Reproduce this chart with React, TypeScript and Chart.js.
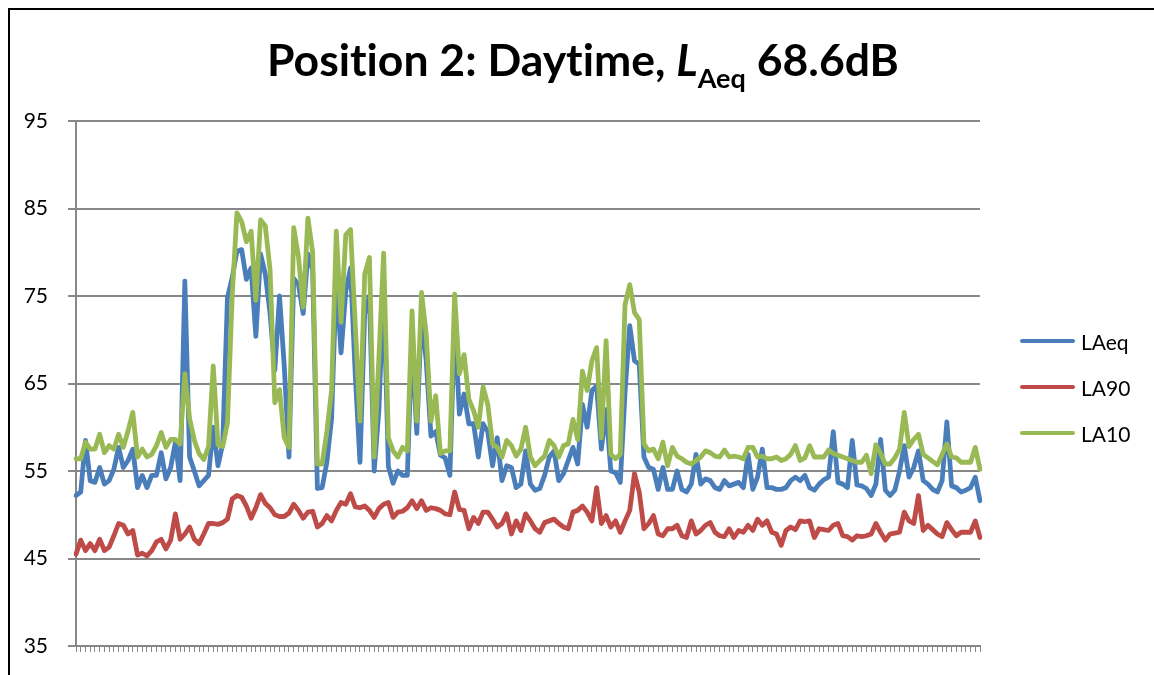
import React, { useEffect, useRef } from "react";
import { Chart, registerables } from "chart.js";

Chart.register(...registerables);

const SERIES_NAMES = ["LAeq", "LA90", "LA10"];
const COLORS = ["#4A7EBB", "#BE4B48", "#98B954"];
const Y_TICKS = [35, 45, 55, 65, 75, 85, 95];

const LAEQ = [
  52.2, 52.6, 58.5, 53.9, 53.7, 55.4, 53.5, 53.9, 55.2, 57.7, 55.4, 56.2, 57.5, 53.1, 54.5, 53.1, 54.5, 54.5, 57.1, 54.1, 55.4, 58.3, 53.9, 76.7,
  56.6, 55.0, 53.3, 53.9, 54.5, 60.0, 55.6, 58.1, 74.8, 77.1, 80.1, 80.3, 76.9, 78.2, 70.4, 79.8, 77.5, 73.0, 66.5, 75.0, 67.0, 56.6, 77.0, 76.3, 73.0, 79.8,
  78.0, 53.0, 53.1, 56.0, 61.0, 77.0, 68.5, 75.5, 78.2, 66.0, 56.0, 73.0, 75.0, 55.0, 62.0, 76.0, 55.5, 53.6, 55.0, 54.5, 54.5, 70.0, 59.3, 73.0, 67.5, 59.0,
  59.5, 56.8, 56.5, 54.5, 72.5, 61.5, 63.8, 60.4, 60.4, 56.6, 60.4, 59.5, 55.6, 58.8, 53.9, 55.6, 55.4, 53.1, 53.5, 57.3, 53.5, 52.8, 53.0, 54.5, 56.6,
  57.3, 53.9, 54.7, 56.2, 57.7, 55.8, 62.6, 60.0, 64.2, 64.7, 57.5, 62.0, 55.0, 54.8, 53.7, 64.0, 71.6, 67.6, 67.2, 56.6, 55.4, 55.2, 52.9, 55.4, 52.9,
  52.9, 55.0, 52.9, 52.6, 53.5, 56.9, 53.5, 54.1, 53.9, 53.1, 52.9, 53.9, 53.3, 53.5, 53.7, 53.1, 56.9, 52.9, 54.3, 57.5, 53.1, 53.1, 52.9, 52.9, 53.1, 53.9,
  54.3, 53.9, 54.5, 53.1, 52.8, 53.5, 54.0, 54.3, 59.5, 53.7, 53.5, 53.1, 58.5, 53.4, 53.3, 53.0, 52.2, 53.5, 58.6,
  52.8, 52.2, 52.8, 55.0, 57.9, 54.3, 55.4, 57.3, 53.9, 53.5, 52.9, 52.6, 53.9, 60.6, 53.3, 53.1, 52.6, 52.8, 53.1, 54.3, 51.6,
];

const LA90 = [
  45.5, 47.1, 45.9, 46.7, 45.9, 47.2, 45.9, 46.3, 47.6, 49.0, 48.8, 47.8, 48.2, 45.4, 45.6, 45.3, 45.9, 46.9, 47.2, 46.1, 47.1, 50.1, 47.2, 47.8,
  48.6, 47.2, 46.7, 47.8, 49.0, 49.0, 48.9, 49.1, 49.5, 51.8, 52.2, 52.0, 51.0, 49.6, 50.8, 52.3, 51.3, 50.8, 50.0, 49.8, 49.8, 50.2, 51.2, 50.5, 49.6, 50.3,
  50.4, 48.6, 49.0, 49.9, 49.3, 50.5, 51.4, 51.2, 52.4, 50.9, 50.8, 51.0, 50.5, 49.7, 50.7, 51.2, 51.4, 49.7, 50.3, 50.4, 50.8, 51.6, 50.7, 51.6, 50.5, 50.8,
  50.7, 50.5, 50.1, 50.0, 52.6, 50.6, 50.5, 48.4, 49.7, 49.0, 50.3, 50.3, 49.5, 48.6, 49.0, 50.1, 47.8, 49.3, 48.2, 50.1, 49.3, 48.4, 48.0, 49.1, 49.3,
  49.5, 49.0, 48.6, 48.4, 50.3, 50.5, 51.0, 50.3, 49.3, 53.1, 49.0, 49.9, 48.6, 49.3, 48.0, 49.3, 50.5, 54.7, 52.6, 48.4, 49.0, 49.9, 47.8, 47.6, 48.4,
  48.4, 48.8, 47.6, 47.4, 49.3, 47.8, 48.2, 48.8, 49.1, 48.0, 47.6, 47.5, 48.4, 47.4, 48.2, 48.0, 48.8, 48.2, 49.5, 48.8, 49.3, 48.0, 47.8, 46.5, 48.2, 48.6,
  48.3, 49.3, 49.2, 49.3, 47.4, 48.4, 48.3, 48.2, 48.8, 49.0, 47.6, 47.5, 47.1, 47.6, 47.5, 47.6, 47.8, 49.0, 48.0,
  47.1, 47.8, 47.9, 48.0, 50.3, 49.3, 49.0, 52.2, 48.2, 48.8, 48.3, 47.8, 47.5, 49.1, 48.3, 47.6, 48.0, 48.0, 48.0, 49.3, 47.4,
];

const LA10 = [
  56.4, 56.4, 58.3, 57.5, 57.5, 59.2, 57.1, 57.9, 57.5, 59.2, 57.7, 59.6, 61.7, 56.6, 57.5, 56.6, 56.9, 57.9, 59.4, 57.7, 58.6, 58.6, 58.1, 66.1,
  61.0, 58.5, 57.0, 56.3, 57.8, 67.0, 58.0, 57.8, 60.5, 75.0, 84.5, 83.5, 81.2, 82.4, 74.5, 83.7, 83.0, 78.0, 62.8, 64.3, 58.8, 57.7, 82.8, 79.5, 73.7, 83.9,
  80.0, 55.8, 55.8, 59.5, 64.2, 82.4, 72.0, 82.0, 82.6, 71.8, 60.7, 77.5, 79.4, 56.6, 68.0, 79.9, 58.8, 57.3, 56.6, 57.7, 57.3, 73.3, 60.7, 75.4, 70.6, 60.7,
  63.6, 57.0, 57.3, 57.3, 75.2, 66.1, 68.3, 63.2, 61.9, 60.0, 64.6, 62.6, 58.1, 57.7, 56.6, 58.5, 57.9, 56.7, 57.5, 60.0, 56.6, 55.6, 56.2, 56.7, 58.5,
  57.9, 56.6, 57.9, 58.1, 60.9, 58.6, 66.4, 64.2, 67.6, 69.1, 58.8, 69.9, 56.9, 56.4, 56.9, 74.0, 76.3, 73.1, 72.3, 58.1, 57.3, 57.5, 56.4, 58.3, 55.6,
  57.7, 56.7, 56.4, 56.0, 55.8, 56.2, 56.6, 57.3, 57.1, 56.7, 56.6, 57.4, 56.6, 56.7, 56.6, 56.4, 57.7, 57.7, 56.6, 56.7, 56.4, 56.4, 56.6, 56.2, 56.4, 56.9,
  57.9, 56.2, 56.5, 57.9, 56.6, 56.6, 56.6, 57.4, 57.0, 56.8, 56.6, 56.4, 56.2, 56.0, 56.0, 56.8, 54.7, 58.0, 57.0,
  55.8, 55.8, 56.5, 57.5, 61.7, 57.8, 58.6, 59.2, 56.9, 56.5, 56.1, 55.7, 56.9, 58.1, 56.6, 56.5, 56.0, 56.0, 56.0, 57.7, 55.2,
];

const CATEGORIES = LAEQ.map((_, i) => String(i + 1));
const SERIES = [LAEQ, LA90, LA10];

const GRID = "#878787";

export default function App() {
  const ref = useRef<HTMLCanvasElement | null>(null);

  useEffect(() => {
    document.documentElement.style.overflow = "hidden";
    if (!ref.current) return;
    const chart = new Chart(ref.current, {
      type: "line",
      data: {
        labels: CATEGORIES,
        datasets: SERIES.map((d, k) => ({
          label: SERIES_NAMES[k],
          data: d,
          borderColor: COLORS[k],
          backgroundColor: COLORS[k],
          borderWidth: 4.8,
          pointRadius: 0,
          tension: 0,
          fill: false,
          borderJoinStyle: "round" as const,
          borderCapStyle: "round" as const,
          order: 3 - k,
        })),
      },
      options: {
        responsive: false,
        animation: false,
        events: [],
        layout: { padding: { left: 0, right: 188, top: 111, bottom: 0 } },
        plugins: {
          legend: { display: false },
          title: { display: false },
          tooltip: { enabled: false },
        },
        scales: {
          x: {
            type: "category",
            offset: false,
            grid: {
              display: true,
              drawOnChartArea: false,
              drawTicks: true,
              tickLength: 6,
              color: GRID,
              lineWidth: 1,
            },
            border: { display: true, color: GRID, width: 2 },
            ticks: { autoSkip: false, maxRotation: 0, callback: () => "" },
            afterFit: (s: any) => {
              s.height = 42;
            },
          },
          y: {
            min: 35,
            max: 95,
            afterBuildTicks: (s: any) => {
              s.ticks = Y_TICKS.map((v) => ({ value: v }));
            },
            grid: { color: GRID, lineWidth: 2, tickLength: 8, drawTicks: true },
            border: { display: true, color: GRID, width: 2 },
            ticks: {
              padding: 20,
              color: "#000",
              font: { family: "Lato", size: 21 },
            },
            afterFit: (s: any) => {
              s.width = 66;
            },
          },
        },
      },
    });
    return () => chart.destroy();
  }, []);

  return (
    <div
      style={{
        position: "fixed",
        left: 8,
        top: 8,
        width: 1160,
        height: 680,
        borderLeft: "2px solid #000",
        borderTop: "2px solid #000",
        boxSizing: "border-box",
        overflow: "hidden",
        background: "#fff",
        fontFamily: "Lato, sans-serif",
        fontVariantLigatures: "none",
      }}
    >
      <canvas
        ref={ref}
        width={1158}
        height={678}
        style={{ position: "absolute", left: 0, top: 0, width: 1158, height: 678 }}
      />
      <div
        style={{
          position: "absolute",
          left: 0,
          top: 21,
          width: 1146,
          textAlign: "center",
          fontWeight: 700,
          fontSize: 44.5,
          lineHeight: "56px",
          color: "#000",
          whiteSpace: "nowrap",
          fontVariantLigatures: "none",
        }}
      >
        Position 2: Daytime, <i>L</i>
        <sub style={{ fontSize: 27, verticalAlign: "-12px", lineHeight: 0 }}>Aeq</sub> 68.6dB
      </div>
      {SERIES_NAMES.map((n, k) => (
        <div
          key={n}
          style={{
            position: "absolute",
            left: 1010,
            top: 320 + k * 46,
            height: 22,
            display: "flex",
            alignItems: "center",
            fontSize: 21,
            color: "#000",
          }}
        >
          <span
            style={{
              display: "inline-block",
              width: 55,
              height: 4,
              borderRadius: 2,
              background: COLORS[k],
              marginRight: 6,
            }}
          />
          {n}
        </div>
      ))}
    </div>
  );
}
